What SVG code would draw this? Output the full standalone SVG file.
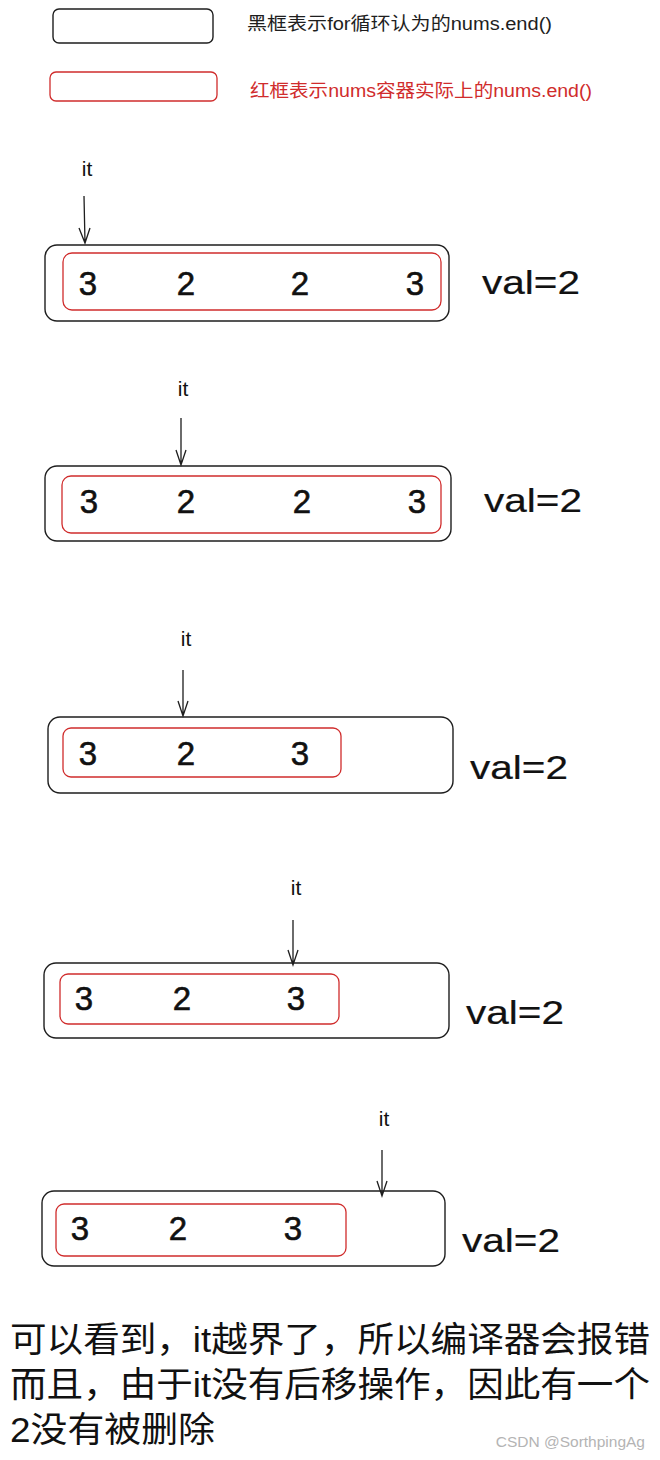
<svg xmlns="http://www.w3.org/2000/svg" width="660" height="1460" viewBox="0 0 660 1460">
<style>
.bk{fill:none;stroke:#1e1e1e;stroke-width:1.4}
.rd{fill:none;stroke:#d02c2c;stroke-width:1.3}
.dg{font-family:"Liberation Sans","Noto Sans",sans-serif;font-size:33px;fill:#111;stroke:#111;stroke-width:0.6;text-anchor:middle;dominant-baseline:central}
.val{font-family:"Liberation Sans","Noto Sans",sans-serif;font-size:34px;fill:#111;stroke:#111;stroke-width:0.2;dominant-baseline:central}
.it{font-family:"Liberation Sans","Noto Sans",sans-serif;font-size:21px;fill:#111;text-anchor:middle;dominant-baseline:central}
.lg{font-family:"Liberation Sans","Noto Sans CJK SC",sans-serif;font-size:18px}
.big{font-family:"Liberation Sans","Noto Sans CJK SC",sans-serif;font-size:35px;fill:#111}
.con{stroke:#1e1e1e;stroke-width:1.3;fill:none}
</style>
<rect width="660" height="1460" fill="#fff"/>
<g id="legend">
<rect x="53" y="9" width="160" height="34" rx="6" class="bk"/>
<text x="247" y="30" class="lg" fill="#1e1e1e" textLength="305" lengthAdjust="spacingAndGlyphs">黑框表示for循环认为的nums.end()</text>
<rect x="50" y="72" width="167" height="29" rx="6" class="rd"/>
<text x="250" y="97" class="lg" fill="#d02c2c" textLength="342" lengthAdjust="spacingAndGlyphs">红框表示nums容器实际上的nums.end()</text>
</g>
<g id="connectors">
<path d="M84,196 L85,243 M79,228 L85,243 L90,228" class="con"/>
<path d="M181,418 L181,465 M176,450 L181,465 L186,450" class="con"/>
<path d="M183,670 L183,716 M178,701 L183,716 L188,701" class="con"/>
<path d="M293,920 L293,965 M288,950 L293,965 L298,950" class="con"/>
<path d="M382,1150 L382,1196 M377,1181 L382,1196 L387,1181" class="con"/>
</g>
<g id="frame1">
<text x="87" y="168" class="it">it</text>
<rect x="45" y="245" width="404" height="76" rx="12" class="bk"/>
<rect x="63" y="253" width="378" height="57" rx="9" class="rd"/>
<text x="88" y="283" class="dg">3</text>
<text x="186" y="283" class="dg">2</text>
<text x="300" y="283" class="dg">2</text>
<text x="415" y="283" class="dg">3</text>
<text x="482" y="282" class="val" textLength="98" lengthAdjust="spacingAndGlyphs">val=2</text>
</g>
<g id="frame2">
<text x="183" y="388" class="it">it</text>
<rect x="45" y="466" width="406" height="75" rx="12" class="bk"/>
<rect x="62" y="476" width="379" height="57" rx="9" class="rd"/>
<text x="89" y="501" class="dg">3</text>
<text x="186" y="501" class="dg">2</text>
<text x="302" y="501" class="dg">2</text>
<text x="417" y="501" class="dg">3</text>
<text x="484" y="500" class="val" textLength="98" lengthAdjust="spacingAndGlyphs">val=2</text>
</g>
<g id="frame3">
<text x="186" y="638" class="it">it</text>
<rect x="48" y="717" width="405" height="76" rx="12" class="bk"/>
<rect x="63" y="728" width="278" height="49" rx="8" class="rd"/>
<text x="88" y="753" class="dg">3</text>
<text x="186" y="753" class="dg">2</text>
<text x="300" y="753" class="dg">3</text>
<text x="470" y="767" class="val" textLength="98" lengthAdjust="spacingAndGlyphs">val=2</text>
</g>
<g id="frame4">
<text x="296" y="887" class="it">it</text>
<rect x="44" y="963" width="405" height="75" rx="12" class="bk"/>
<rect x="60" y="974" width="279" height="50" rx="8" class="rd"/>
<text x="84" y="998" class="dg">3</text>
<text x="182" y="998" class="dg">2</text>
<text x="296" y="998" class="dg">3</text>
<text x="466" y="1012" class="val" textLength="98" lengthAdjust="spacingAndGlyphs">val=2</text>
</g>
<g id="frame5">
<text x="384" y="1118" class="it">it</text>
<rect x="42" y="1191" width="403" height="75" rx="12" class="bk"/>
<rect x="56" y="1204" width="290" height="52" rx="8" class="rd"/>
<text x="80" y="1228" class="dg">3</text>
<text x="178" y="1228" class="dg">2</text>
<text x="293" y="1228" class="dg">3</text>
<text x="462" y="1240" class="val" textLength="98" lengthAdjust="spacingAndGlyphs">val=2</text>
</g>
<g id="caption">
<text x="10" y="1352" class="big" textLength="640" lengthAdjust="spacingAndGlyphs">可以看到，it越界了，所以编译器会报错</text>
<text x="10" y="1397" class="big" textLength="640" lengthAdjust="spacingAndGlyphs">而且，由于it没有后移操作，因此有一个</text>
<text x="10" y="1442" class="big" textLength="205" lengthAdjust="spacingAndGlyphs">2没有被删除</text>
<text x="645" y="1447" text-anchor="end" font-family="Liberation Sans,sans-serif" font-size="15.5" fill="#b4b4b4">CSDN @SorthpingAg</text>
</g>
</svg>
